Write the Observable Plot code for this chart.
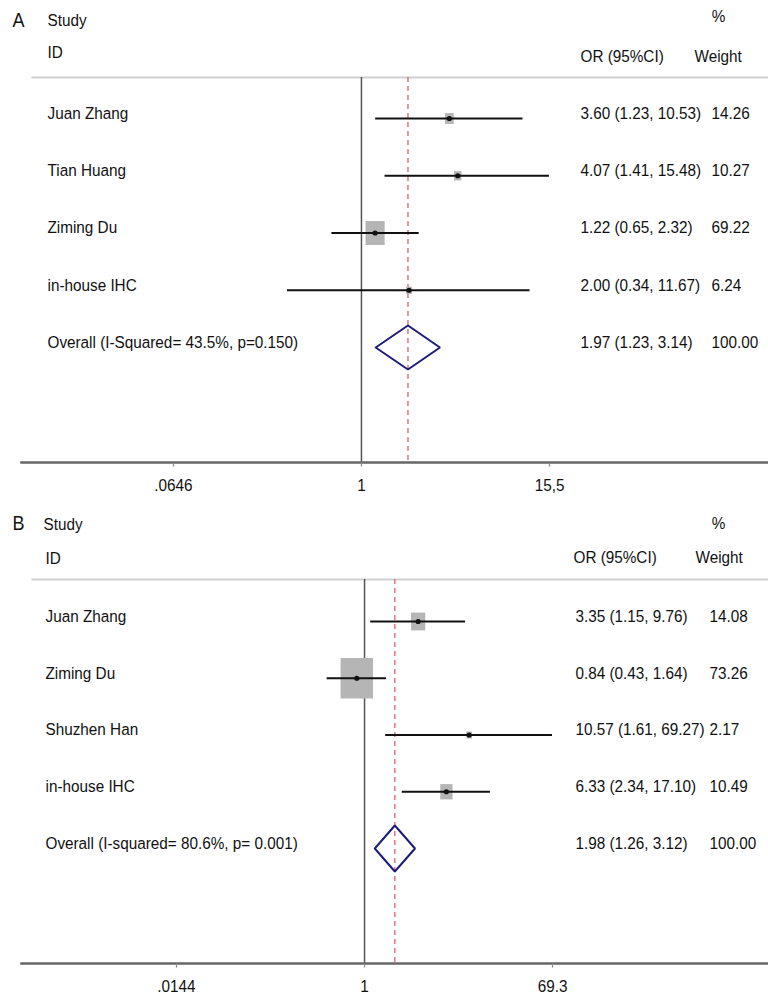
<!DOCTYPE html>
<html><head><meta charset="utf-8">
<script src="https://cdn.jsdelivr.net/npm/d3@7"></script>
<script src="https://cdn.jsdelivr.net/npm/@observablehq/plot@0.6"></script>
<style>
body{margin:0;background:#fff;}
#chart svg{display:block;}
</style></head><body><div id="chart"></div>
<script>
// ---------- Panel A data ----------
const panelLabelA = "A";
const studiesA = ["Juan Zhang", "Tian Huang", "Ziming Du", "in-house IHC"];
const orA = [3.60, 4.07, 1.22, 2.00];
const loA = [1.23, 1.41, 0.65, 0.34];
const hiA = [10.53, 15.48, 2.32, 11.67];
const weightA = [14.26, 10.27, 69.22, 6.24];
const overallLabelA = "Overall (I-Squared= 43.5%, p=0.150)";
const overallOrA = 1.97, overallLoA = 1.23, overallHiA = 3.14, overallWeightA = 100.00;
const tickValuesA = [0.0646, 1, 15.5];
const tickLabelsA = [".0646", "1", "15,5"];

// ---------- Panel B data ----------
const panelLabelB = "B";
const studiesB = ["Juan Zhang", "Ziming Du", "Shuzhen Han", "in-house IHC"];
const orB = [3.35, 0.84, 10.57, 6.33];
const loB = [1.15, 0.43, 1.61, 2.34];
const hiB = [9.76, 1.64, 69.27, 17.10];
const weightB = [14.08, 73.26, 2.17, 10.49];
const overallLabelB = "Overall (I-squared= 80.6%, p= 0.001)";
const overallOrB = 1.98, overallLoB = 1.26, overallHiB = 3.12, overallWeightB = 100.00;
const tickValuesB = [0.0144, 1, 69.3];
const tickLabelsB = [".0144", "1", "69.3"];

// ---------- Header texts ----------
const headerStudy = "Study", headerId = "ID", headerPct = "%", headerOr = "OR (95%CI)", headerWeight = "Weight";

// ---------- Layout / styles ----------
const FONT = '"Liberation Sans", Arial, Helvetica, sans-serif';
const layoutA = {
  height: 498, marginTop: 77, marginBottom: 36,
  xRange: [173, 549], y0: 60.75, rowStep: 57.25, rMax: 14.5, diamondHalf: 22,
  nameDx: 26, orDx: 559, wDx: 690, tickDy: 23,
  hdr: {panel: [-9, -57], study: [26, -57], id: [26, -25], pct: [697, -61], or: [559, -21], weight: [673, -21]}
};
const layoutB = {
  height: 499, marginTop: 81, marginBottom: 34,
  xRange: [176, 552], y0: 66.25, rowStep: 56.75, rMax: 23.9, diamondHalf: 23,
  nameDx: 24, orDx: 554, wDx: 688, tickDy: 23,
  hdr: {panel: [-9, -56], study: [22, -55], id: [24, -21], pct: [697, -56], or: [552, -22], weight: [674, -22]}
};
const FS = 17;
const INK = "#111";

// custom rectangle symbol (slightly taller than wide like the source)
const boxSymbol = {
  draw(context, size) {
    const aspect = 0.8;
    const h = Math.sqrt(size / aspect), w = h * aspect;
    context.rect(-w / 2, -h / 2, w, h);
  }
};
// short downward tick below the axis line
const tickSymbol = {
  draw(context) {
    context.moveTo(0, 0);
    context.lineTo(0, 4);
  }
};

function panel(d, L) {
  const rows = d.names.map((name, i) => ({name, or: d.or[i], lo: d.lo[i], hi: d.hi[i], w: d.weight[i], row: i + 1}));
  const overall = {name: d.overallLabel, or: d.overallOr, lo: d.overallLo, hi: d.overallHi, w: d.overallWeight, row: rows.length + 1};
  const all = [...rows, overall];
  const f2 = v => v.toFixed(2);
  const dh = L.diamondHalf / L.rowStep;
  const diamond = [
    {x: overall.lo, y: overall.row},
    {x: overall.or, y: overall.row - dh},
    {x: overall.hi, y: overall.row},
    {x: overall.or, y: overall.row + dh},
    {x: overall.lo, y: overall.row}
  ];
  const tickData = d.ticks.map((v, i) => ({v, label: d.tickLabels[i]}));
  const span = rows.length + 3;
  const hdr = (text, pos, anchor = "start", size = FS) => Plot.text([text], {
    text: s => s, frameAnchor: "top-left", dx: pos[0], dy: pos[1], lineAnchor: "middle",
    textAnchor: anchor, fontSize: size, fill: INK
  });
  const rowText = (data, accessor, dx) => Plot.text(data, {
    y: "row", text: accessor, frameAnchor: "left", dx, dy: -5, lineAnchor: "middle",
    textAnchor: "start", fontSize: FS, fill: INK
  });
  const svg = Plot.plot({
    width: 768, height: L.height,
    marginLeft: 21, marginRight: 0, marginTop: L.marginTop, marginBottom: L.marginBottom,
    style: {fontFamily: FONT, fontSize: FS + "px", background: "#fff", color: INK},
    x: {type: "log", domain: [d.ticks[0], d.ticks[d.ticks.length - 1]], range: L.xRange, axis: null},
    y: {domain: [0, span], range: [L.y0, L.y0 + span * L.rowStep], axis: null},
    r: {type: "sqrt", domain: [0, 100], range: [0, L.rMax]},
    marks: [
      Plot.frame({anchor: "top", insetLeft: 11, stroke: "#cfcfcf", strokeWidth: 2}),
      Plot.ruleX([1], {stroke: "#555", strokeWidth: 1.5}),
      Plot.ruleX([overall.or], {stroke: "#d4636b", strokeWidth: 1.3, strokeDasharray: "5,4"}),
      Plot.dot(rows, {x: "or", y: "row", r: "w", symbol: boxSymbol, fill: "#b5b5b5", stroke: "none"}),
      Plot.ruleY(rows, {y: "row", x1: "lo", x2: "hi", stroke: INK, strokeWidth: 2.2}),
      Plot.dot(rows, {x: "or", y: "row", r: 2.6, fill: INK, stroke: "none"}),
      Plot.line(diamond, {x: "x", y: "y", stroke: "#1c1c78", strokeWidth: 2, strokeLinejoin: "miter"}),
      Plot.frame({anchor: "bottom", stroke: "#666", strokeWidth: 2.5}),
      Plot.dot(tickData, {x: "v", frameAnchor: "bottom", symbol: tickSymbol, r: 3,
        fill: "none", stroke: "#888", strokeWidth: 1.2}),
      Plot.text(tickData, {x: "v", text: "label", frameAnchor: "bottom", dy: L.tickDy, lineAnchor: "middle",
        textAnchor: "middle", fontSize: FS, fill: INK}),
      rowText(all, "name", L.nameDx),
      rowText(all, r => `${f2(r.or)} (${f2(r.lo)}, ${f2(r.hi)})`, L.orDx),
      rowText(all, r => f2(r.w), L.wDx),
      hdr(d.panelLabel, L.hdr.panel, "start", 20),
      hdr(headerStudy, L.hdr.study),
      hdr(headerId, L.hdr.id),
      hdr(headerPct, L.hdr.pct, "middle"),
      hdr(headerOr, L.hdr.or),
      hdr(headerWeight, L.hdr.weight)
    ]
  });
  // horizontally condense text like the source export
  svg.querySelectorAll("text").forEach(t => {
    const tr = t.getAttribute("transform");
    if (tr) t.setAttribute("transform", tr + " scale(0.9,1)");
  });
  return svg;
}

const chart = document.getElementById("chart");
chart.appendChild(panel({
  panelLabel: panelLabelA, names: studiesA, or: orA, lo: loA, hi: hiA, weight: weightA,
  overallLabel: overallLabelA, overallOr: overallOrA, overallLo: overallLoA, overallHi: overallHiA,
  overallWeight: overallWeightA, ticks: tickValuesA, tickLabels: tickLabelsA
}, layoutA));
chart.appendChild(panel({
  panelLabel: panelLabelB, names: studiesB, or: orB, lo: loB, hi: hiB, weight: weightB,
  overallLabel: overallLabelB, overallOr: overallOrB, overallLo: overallLoB, overallHi: overallHiB,
  overallWeight: overallWeightB, ticks: tickValuesB, tickLabels: tickLabelsB
}, layoutB));
</script></body></html>
